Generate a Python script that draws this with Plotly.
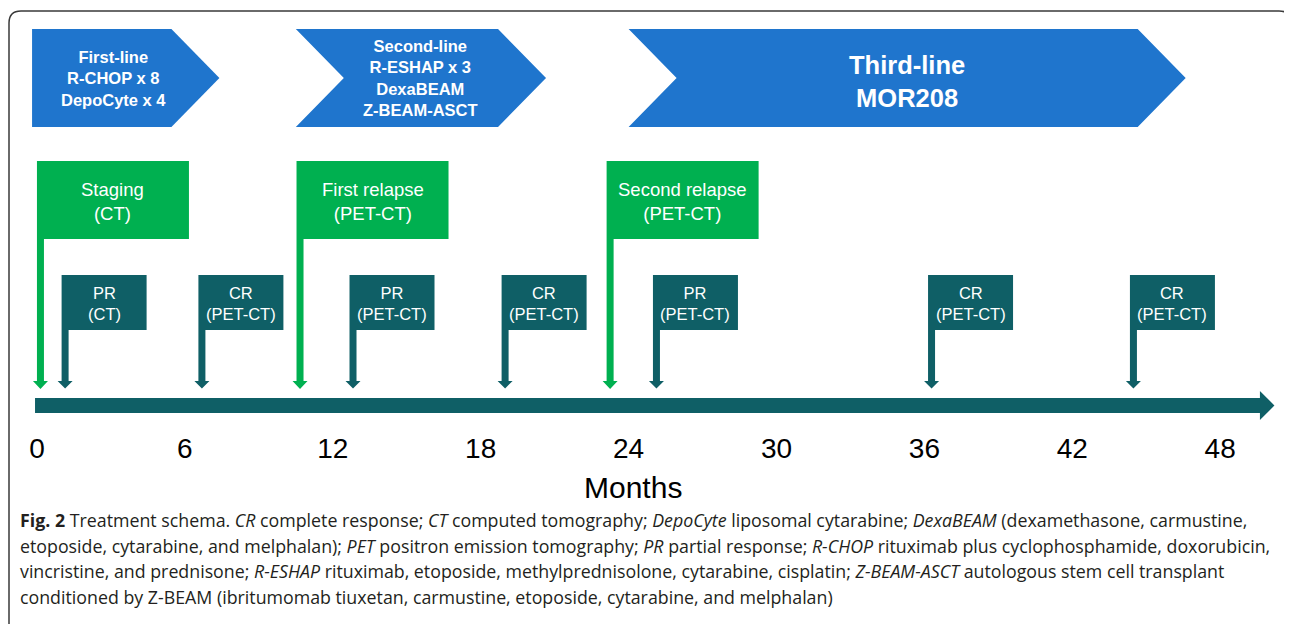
import plotly.graph_objects as go

# ---------------- data ----------------
tick_months = [0, 6, 12, 18, 24, 30, 36, 42, 48]
tick_labels = ["0", "6", "12", "18", "24", "30", "36", "42", "48"]
axis_title = "Months"

line_labels = ["First-line<br>R-CHOP x 8<br>DepoCyte x 4",
               "Second-line<br>R-ESHAP x 3<br>DexaBEAM<br>Z-BEAM-ASCT",
               "Third-line<br>MOR208"]
line_start = [-0.2, 10.5, 24.0]
line_end = [7.4, 20.65, 46.6]

imaging_labels = ["Staging<br>(CT)", "First relapse<br>(PET-CT)", "Second relapse<br>(PET-CT)"]
imaging_month = [0.14, 10.67, 23.25]

response_labels = ["PR<br>(CT)", "CR<br>(PET-CT)", "PR<br>(PET-CT)", "CR<br>(PET-CT)",
                   "PR<br>(PET-CT)", "CR<br>(PET-CT)", "CR<br>(PET-CT)"]
response_month = [1.14, 6.69, 12.82, 18.99, 25.13, 36.29, 44.48]

timeline_start = -0.08
timeline_end = 50.2

caption_lines = [
    "<b>Fig. 2</b> Treatment schema. <i>CR</i> complete response; <i>CT</i> computed tomography; <i>DepoCyte</i> liposomal cytarabine; <i>DexaBEAM</i> (dexamethasone, carmustine,",
    "etoposide, cytarabine, and melphalan); <i>PET</i> positron emission tomography; <i>PR</i> partial response; <i>R-CHOP</i> rituximab plus cyclophosphamide, doxorubicin,",
    "vincristine, and prednisone; <i>R-ESHAP</i> rituximab, etoposide, methylprednisolone, cytarabine, cisplatin; <i>Z-BEAM-ASCT</i> autologous stem cell transplant",
    "conditioned by Z-BEAM (ibritumomab tiuxetan, carmustine, etoposide, cytarabine, and melphalan)",
]

# ---------------- styling / layout ----------------
OFF = 8                      # page margin around the plot div
W, H = 1292 - OFF, 624 - OFF
PX = 24.65                   # pixels per month
X0 = 37                      # page pixel of month 0
XMIN = -(X0 - OFF) / PX
XMAX = XMIN + W / PX

BLUE = "#1F75CD"
GREEN = "#00B050"
TEAL = "#0F5F66"
FONT = "Liberation Sans, Arial, sans-serif"
CAPFONT = "Open Sans, sans-serif"


def px(n):
    return n / PX


def paperx(page_x):
    return (page_x - OFF) / W


shapes = []
annotations = []

# frame
fl, fr, ft = paperx(9), paperx(1291), 11
rx = 12 / W
shapes.append(dict(type="path", xref="paper", yref="y",
                   path=f"M {fl},640 L {fl},{ft+12} Q {fl},{ft} {fl+rx},{ft} L {fr-rx},{ft} Q {fr},{ft} {fr},{ft+12} L {fr},640",
                   line=dict(color="#3a3a3a", width=1.5), fillcolor="rgba(0,0,0,0)"))

# chevrons
d = px(48)
yt, yb, ym = 29, 127, 78
for i, (lab, s, e) in enumerate(zip(line_labels, line_start, line_end)):
    if i == 0:
        p = f"M {s},{yt} L {e-d},{yt} L {e},{ym} L {e-d},{yb} L {s},{yb} Z"
        cx = (s + d / 2 + e - d) / 2
    else:
        p = f"M {s},{yt} L {e-d},{yt} L {e},{ym} L {e-d},{yb} L {s},{yb} L {s+d},{ym} Z"
        cx = (s + d + e - d) / 2
    shapes.append(dict(type="path", xref="x", yref="y", path=p,
                       fillcolor=BLUE, line=dict(width=0), layer="below"))
    fs = 25.5 if i == 2 else 16.5
    annotations.append(dict(x=cx, y=ym + (3 if i == 2 else 0), xref="x", yref="y", text=lab,
                            showarrow=False, font=dict(family=FONT, size=fs, color="white", weight="bold"),
                            xanchor="center", yanchor="middle"))


def flag(m, label, box_w, box_top, box_bot, head_top, tip, color, fs, ty):
    hw = px(3.5)
    left = m - hw
    right = left + px(box_w)
    shapes.append(dict(type="rect", xref="x", yref="y", x0=left, x1=right, y0=box_top, y1=box_bot,
                       fillcolor=color, line=dict(width=0), layer="below"))
    hh = px(7.5)
    p = (f"M {m-hw},{box_bot} L {m+hw},{box_bot} L {m+hw},{head_top} L {m+hh},{head_top} "
         f"L {m},{tip} L {m-hh},{head_top} L {m-hw},{head_top} Z")
    shapes.append(dict(type="path", xref="x", yref="y", path=p,
                       fillcolor=color, line=dict(width=0), layer="below"))
    annotations.append(dict(x=(left + right) / 2, y=ty, xref="x", yref="y", text=label,
                            showarrow=False, font=dict(family=FONT, size=fs, color="white"),
                            xanchor="center", yanchor="middle"))


for m, lab in zip(imaging_month, imaging_labels):
    flag(m, lab, 152, 161, 239, 381, 389, GREEN, 18.5, 201)
for m, lab in zip(response_month, response_labels):
    flag(m, lab, 85, 275, 330, 381, 388.5, TEAL, 16.5, 303.5)

# timeline bar with arrow
hl = px(14.5)
shapes.append(dict(type="path", xref="x", yref="y",
                   path=(f"M {timeline_start},398 L {timeline_end-hl},398 L {timeline_end-hl},391 "
                         f"L {timeline_end},405.5 L {timeline_end-hl},420 L {timeline_end-hl},413 "
                         f"L {timeline_start},413 Z"),
                   fillcolor=TEAL, line=dict(width=0), layer="below"))

# axis title
annotations.append(dict(x=paperx(633), y=487, xref="paper", yref="y", text=axis_title,
                        showarrow=False, xanchor="center", yanchor="middle",
                        font=dict(family=FONT, size=30, color="black")))

# caption
cap_y = [520, 546, 571, 597]
for t, yy in zip(caption_lines, cap_y):
    annotations.append(dict(x=paperx(18), y=yy, xref="paper", yref="y", text=t, showarrow=False,
                            xanchor="left", yanchor="middle",
                            font=dict(family=CAPFONT, size=17.8, color="#231F20")))

fig = go.Figure()
fig.add_trace(go.Scatter(x=[tick_months[0]], y=[-100], mode="markers",
                         marker=dict(opacity=0), hoverinfo="skip", showlegend=False))

fig.update_layout(
    width=W, height=H, margin=dict(l=0, r=0, t=0, b=0),
    paper_bgcolor="white", plot_bgcolor="white",
    shapes=shapes, annotations=annotations, showlegend=False,
    xaxis=dict(range=[XMIN, XMAX], tickvals=tick_months, ticktext=tick_labels,
               showgrid=False, zeroline=False, showline=False, ticks="",
               anchor="free", position=(624 - 429) / H,
               tickfont=dict(family=FONT, size=28, color="black"),
               fixedrange=True),
    yaxis=dict(range=[624, OFF], visible=False, fixedrange=True),
)

fig.write_html("out.html")
